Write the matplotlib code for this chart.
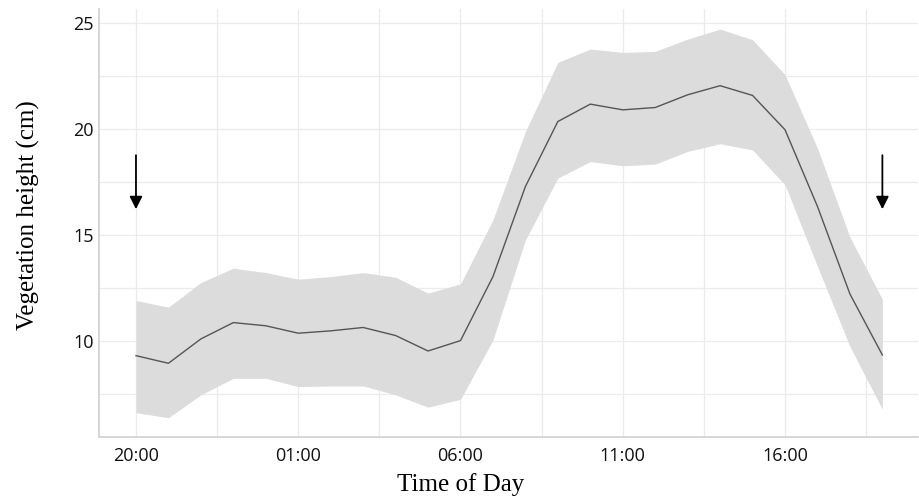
import numpy as np
import matplotlib
matplotlib.use('Agg')
import matplotlib.pyplot as plt

# hourly samples from 20:00 through 19:00 the next day
hours = ['20:00', '21:00', '22:00', '23:00', '00:00', '01:00', '02:00', '03:00',
         '04:00', '05:00', '06:00', '07:00', '08:00', '09:00', '10:00', '11:00',
         '12:00', '13:00', '14:00', '15:00', '16:00', '17:00', '18:00', '19:00']
mean_height = [9.29, 8.93, 10.08, 10.85, 10.70, 10.35, 10.46, 10.62, 10.24, 9.51, 10.00, 13.02,
               17.27, 20.34, 21.16, 20.89, 21.00, 21.60, 22.03, 21.57, 19.95, 16.33, 12.20, 9.32]
upper = [11.89, 11.58, 12.74, 13.42, 13.21, 12.90, 13.02, 13.21, 12.99, 12.24, 12.68, 15.70,
         19.87, 23.13, 23.76, 23.60, 23.65, 24.23, 24.70, 24.20, 22.55, 19.08, 14.88, 11.95]
lower = [6.60, 6.36, 7.44, 8.22, 8.22, 7.83, 7.86, 7.86, 7.44, 6.86, 7.23, 10.03,
         14.75, 17.67, 18.45, 18.25, 18.33, 18.93, 19.29, 19.00, 17.35, 13.50, 9.72, 6.76]
tick_labels = ['20:00', '01:00', '06:00', '11:00', '16:00']
y_ticks = [10, 15, 20, 25]
arrow_at = ['20:00', '19:00']

x = np.arange(len(hours))

fig = plt.figure(figsize=(9.19, 4.99), dpi=100)
ax = fig.add_axes([0.1077, 0.1242, 0.8913, 0.8578])

ax.fill_between(x, lower, upper, color='#dcdcdc', linewidth=0, zorder=2)
ax.plot(x, mean_height, color='#555555', linewidth=1.0, zorder=3)

# arrows marking start and end of the sampling window
for h in arrow_at:
    i = hours.index(h)
    ax.annotate('', xy=(i, 16.2), xytext=(i, 18.75),
                arrowprops=dict(arrowstyle='-|>', color='black', lw=1.3,
                                mutation_scale=19, shrinkA=0, shrinkB=0),
                zorder=4)

ax.set_xticks([hours.index(t) for t in tick_labels])
ax.set_xticklabels(tick_labels)
ax.set_xticks(np.arange(-2.5, 25, 2.5), minor=True)
ax.set_yticks(y_ticks)
ax.set_yticks(np.arange(7.5, 26, 2.5), minor=True)
# limits after ticks, so the minor ticks don't widen the view
ax.set_xlim(-1.14, 24.1)
ax.set_ylim(5.45, 25.65)

ax.grid(True, which='both', color='#ebebeb', linewidth=0.9, zorder=0)
ax.set_axisbelow(True)
for s in ['top', 'right']:
    ax.spines[s].set_visible(False)
for s in ['left', 'bottom']:
    ax.spines[s].set_color('#d0d0d0')
    ax.spines[s].set_linewidth(1.2)
ax.tick_params(which='both', length=0)
ax.tick_params(axis='x', pad=7)
ax.tick_params(axis='y', pad=4)
for lab in ax.get_xticklabels() + ax.get_yticklabels():
    lab.set_fontfamily('Open Sans')
    lab.set_fontsize(13)
    lab.set_color('#111111')

ax.set_xlabel('Time of Day', family='Liberation Serif', fontsize=18)
ax.set_ylabel('Vegetation height (cm)', family='Liberation Serif', fontsize=18)
ax.xaxis.set_label_coords(0.441, -0.085)
ax.yaxis.set_label_coords(-0.072, 0.519)

fig.savefig('out.png', dpi=100)
